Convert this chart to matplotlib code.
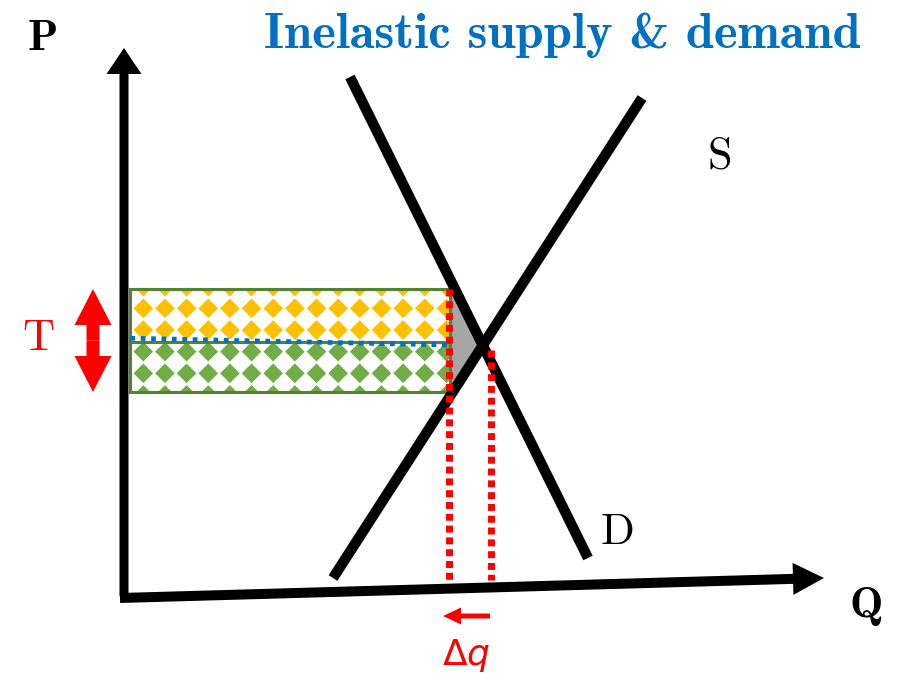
import numpy as np
import matplotlib
matplotlib.use('Agg')
import matplotlib.pyplot as plt
from matplotlib.patches import Rectangle, Polygon, FancyArrow

# ---- diagram data (pixel-space coordinates of the sketch) ----
demand_x = [350, 588]
demand_y = [77, 558]
supply_x = [333, 642]
supply_y = [578, 98]
tax_top, tax_mid, tax_bottom = 289, 342, 392   # price levels: buyer price, pre-tax, seller price
q_left, q_right = 130, 450                      # quantity span of tax box
q_new, q_old = 449, 491                         # quantities with / without tax
price_line_x = [120, 450]
price_line_y = [338, 345]
dwl_x = [452, 484, 452]
dwl_y = [292, 346, 390]
title = "Inelastic supply & demand"

W, H = 897, 686
fig = plt.figure(figsize=(W / 100, H / 100), dpi=100)
ax = fig.add_axes([0, 0, 1, 1])
ax.set_xlim(0, W)
ax.set_ylim(H, 0)
ax.axis('off')

BLUE = '#0070C0'
RED = '#FF0000'
YEL = '#FFC000'
GRN = '#70AD47'
DGRN = '#548235'

# tax box with diamond pattern
clip = Rectangle((q_left, tax_top), q_right - q_left, tax_bottom - tax_top,
                 facecolor='white', edgecolor='none', zorder=1)
ax.add_patch(clip)
step = 21.65
cols = np.arange(143.3, q_right + 10, step)
rows = np.arange(286.7, tax_bottom + 10, step)
gx, gy = np.meshgrid(cols, rows)
gx, gy = gx.ravel(), gy.ravel()
colors = [YEL if y < tax_mid else GRN for y in gy]
sc = ax.scatter(gx, gy, s=100, marker='D', c=colors, linewidths=0, zorder=2)
sc.set_clip_path(clip)
ax.add_patch(Rectangle((q_left, tax_top), q_right - q_left, tax_mid - tax_top,
                       facecolor='none', edgecolor=DGRN, lw=2.2, zorder=3))
ax.add_patch(Rectangle((q_left, tax_mid), q_right - q_left, tax_bottom - tax_mid,
                       facecolor='none', edgecolor=DGRN, lw=2.2, zorder=3))

# deadweight loss triangle
ax.add_patch(Polygon(np.column_stack([dwl_x, dwl_y]), closed=True,
                     facecolor='#A6A6A6', edgecolor='none', zorder=3))

# pre-tax price dotted line
ax.plot(price_line_x, price_line_y, color=BLUE, lw=3.4,
        linestyle=(0, (1, 1.2)), zorder=4, solid_capstyle='butt')

# supply and demand
ax.plot(demand_x, demand_y, color='black', lw=7.5, zorder=5, solid_capstyle='butt')
ax.plot(supply_x, supply_y, color='black', lw=7.5, zorder=5, solid_capstyle='butt')

# red dotted quantity lines
ax.plot([q_new, q_new], [tax_top, 580], color=RED, lw=5, linestyle=(0, (1, 0.7)), zorder=6)
ax.plot([q_old, q_old], [350, 580], color=RED, lw=5, linestyle=(0, (1, 0.7)), zorder=6)

# axes arrows
ax.add_patch(FancyArrow(124, 596, 0, -548, width=9, head_width=35, head_length=26,
                        length_includes_head=True, color='black', lw=0, zorder=7))
ax.add_patch(FancyArrow(120, 598, 704, -20, width=10, head_width=32, head_length=31,
                        length_includes_head=True, color='black', lw=0, zorder=7))

# T double arrow
ax.add_patch(FancyArrow(93, 340.5, 0, -51.5, width=13, head_width=37, head_length=36,
                        length_includes_head=True, color=RED, lw=0, zorder=7))
ax.add_patch(FancyArrow(93, 340.5, 0, 51.5, width=13, head_width=37, head_length=36,
                        length_includes_head=True, color=RED, lw=0, zorder=7))

# delta q arrow
ax.add_patch(FancyArrow(490, 616, -47, 0, width=5, head_width=17, head_length=18,
                        length_includes_head=True, color=RED, lw=0, zorder=7))

# texts
ax.text(43, 40, 'P', fontfamily='cmb10', fontsize=32, ha='center', va='center', color='black')
ax.text(866, 606, 'Q', fontfamily='cmb10', fontsize=32, ha='center', va='center', color='black')
ax.text(720, 157, 'S', fontfamily='cmr10', fontsize=32, ha='center', va='center', color='black')
ax.text(618, 533, 'D', fontfamily='cmr10', fontsize=32, ha='center', va='center', color='black')
ax.text(38, 339, 'T', fontfamily='cmr10', fontsize=32, ha='center', va='center', color=RED)
ax.text(562, 35, title, fontfamily='cmb10', fontsize=36.5, ha='center', va='center', color=BLUE)
ax.text(466, 655, r'$\Delta q$', fontsize=26, ha='center', va='center', color=RED)

fig.savefig('out.png', dpi=100)
